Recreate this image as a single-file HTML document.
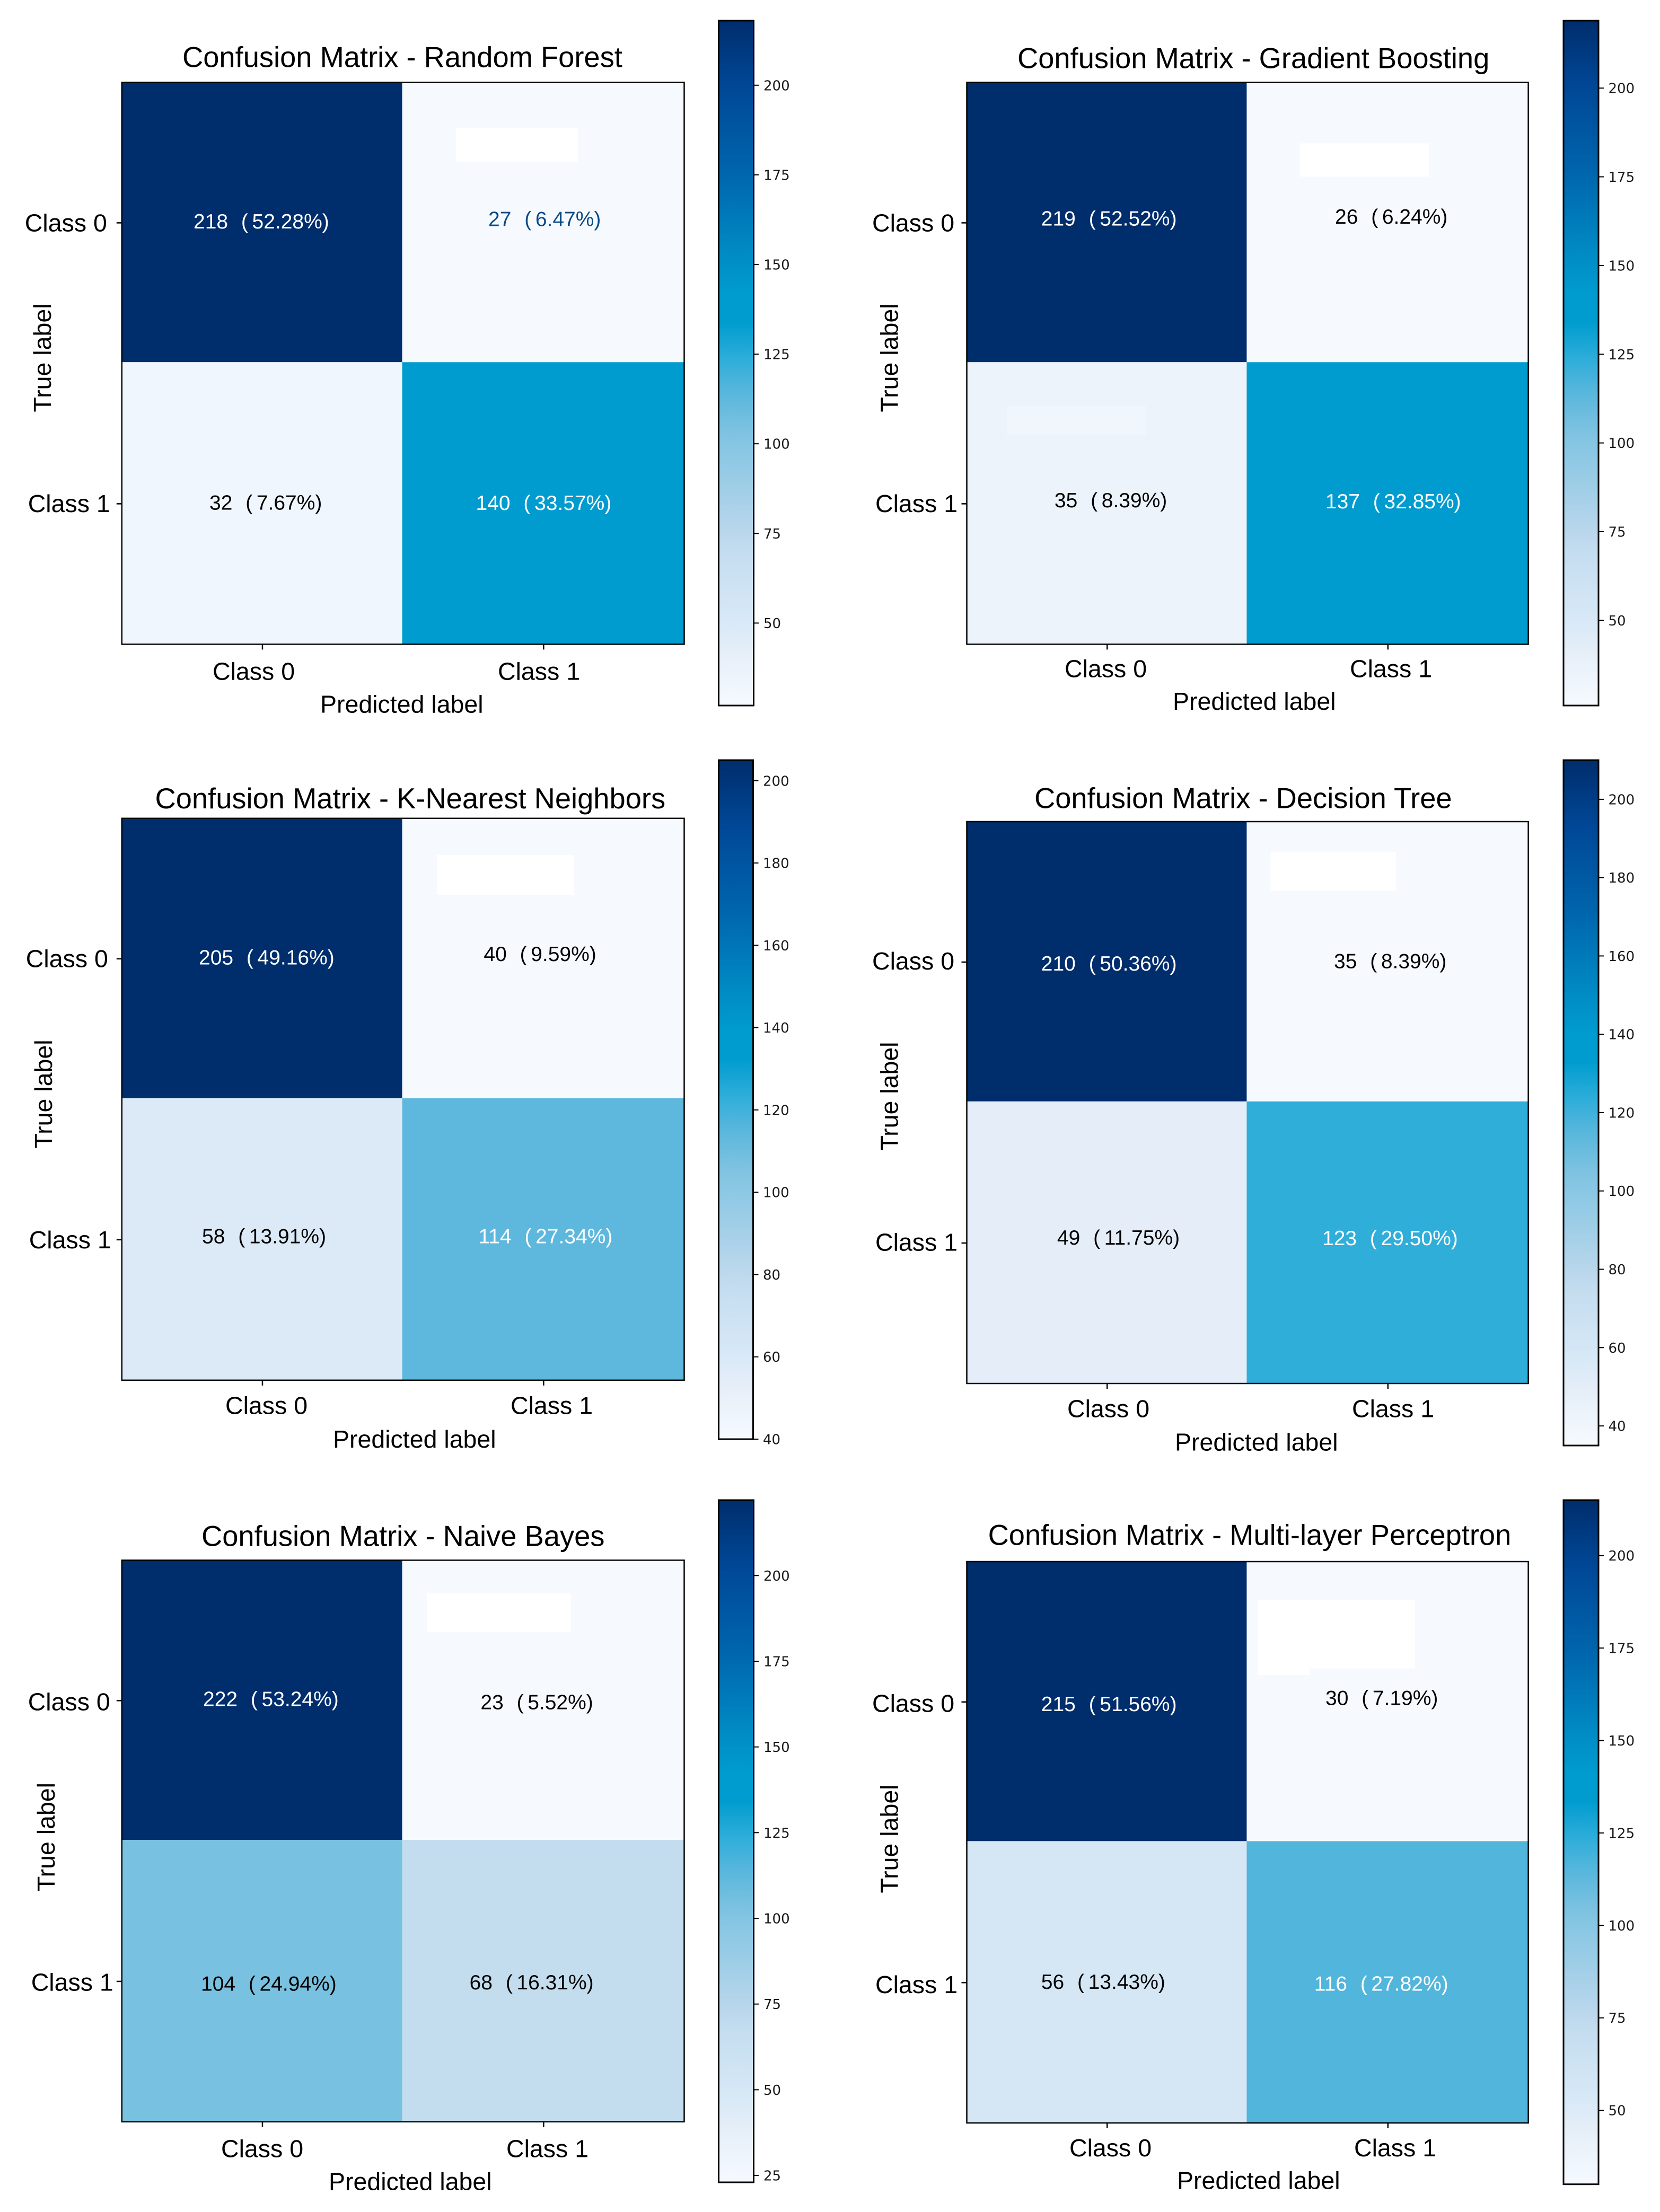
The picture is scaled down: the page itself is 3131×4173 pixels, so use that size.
<!DOCTYPE html>
<html lang="en">
<head>
<meta charset="utf-8">
<title>Confusion Matrices</title>
<style>
html,body{margin:0;padding:0;background:#fff;width:3131px;height:4173px;overflow:hidden}
svg{display:block}
text{font-family:"Liberation Sans","Noto Sans CJK SC",sans-serif;fill:#000}
.cb-tick{font-family:"DejaVu Sans",sans-serif;font-size:26px;fill:#1a1a1a}
.title{font-size:54.3px}
.axis{font-size:46.5px}
.cell-text{font-size:39px}
</style>
</head>
<body>
<svg id="figure" xmlns="http://www.w3.org/2000/svg" width="3131" height="4173" viewBox="0 0 3131 4173">
<rect x="0" y="0" width="3131" height="4173" fill="#fff"/>
</svg>
<script>
// ---- chart data ----
const modelNames = ["Random Forest","Gradient Boosting","K-Nearest Neighbors","Decision Tree","Naive Bayes","Multi-layer Perceptron"];
const classLabels = ["Class 0","Class 1"];
const countsRandomForest = [218,27,32,140];
const countsGradientBoosting = [219,26,35,137];
const countsKNearest = [205,40,58,114];
const countsDecisionTree = [210,35,49,123];
const countsNaiveBayes = [222,23,104,68];
const countsPerceptron = [215,30,56,116];
const allCounts = [countsRandomForest,countsGradientBoosting,countsKNearest,countsDecisionTree,countsNaiveBayes,countsPerceptron];
const percentsRandomForest = ["52.28","6.47","7.67","33.57"];
const percentsGradientBoosting = ["52.52","6.24","8.39","32.85"];
const percentsKNearest = ["49.16","9.59","13.91","27.34"];
const percentsDecisionTree = ["50.36","8.39","11.75","29.50"];
const percentsNaiveBayes = ["53.24","5.52","24.94","16.31"];
const percentsPerceptron = ["51.56","7.19","13.43","27.82"];
const allPercents = [percentsRandomForest,percentsGradientBoosting,percentsKNearest,percentsDecisionTree,percentsNaiveBayes,percentsPerceptron];
const ticksBy25From50 = [50,75,100,125,150,175,200];
const ticksBy20From40 = [40,60,80,100,120,140,160,180,200];
const ticksBy25From25 = [25,50,75,100,125,150,175,200];
const allTicks = [ticksBy25From50,ticksBy25From50,ticksBy20From40,ticksBy20From40,ticksBy25From25,ticksBy25From50];

// ---- page layout (hand placed in the original figure, not data) ----
const panelLayouts = [
 {plot:[229.8,155.4,1060.7,1060],cb:[1355.5,39,66,1292],title:[344,107],yl:[[46.8,419.7],[52.7,949.3]],xl:[[401,1266],[939,1266]],pred:[604,1328],tru:[79.6,675],
  ann:[[365,417],[921,412.6],[395,947.5],[897.5,948]],patch:[[860.7,241,228.8,64.4,"#fff"]]},
 {plot:[1823.5,155.4,1059.1,1060],cb:[2949,39,66,1292],title:[1919,109],yl:[[1645,419.7],[1651,949.3]],xl:[[2008,1261],[2546,1261]],pred:[2212,1322.5],tru:[1677,675],
  ann:[[1963.8,411.7],[2518,408],[1988.9,943],[2499.9,944.8]],patch:[[2451.8,270.6,243.2,62.4,"#fff"],[1898.7,766,262.3,55.6,"#f0f6fc"]]},
 {plot:[229.8,1543.8,1060.7,1060],cb:[1355.5,1434,65,1281],title:[292.5,1505.4],yl:[[48.8,1808],[54.7,2338.5]],xl:[[425,2651],[963,2651]],pred:[628,2714.5],tru:[81.6,2064],
  ann:[[375,1805.4],[912.4,1799],[381,2331.4],[902.5,2331.4]],patch:[[825,1613,257.6,75.4,"#fff"]]},
 {plot:[1823.5,1550,1059.1,1060],cb:[2949,1434,66,1293],title:[1951,1505],yl:[[1645,1812.6],[1651,2343]],xl:[[2013,2657],[2550,2657]],pred:[2216,2720],tru:[1677,2068],
  ann:[[1963.8,1817],[2516,1812.6],[1993.9,2334],[2494,2335]],patch:[[2396.7,1608,236.3,72.4,"#fff"]]},
 {plot:[229.8,2943.4,1060.7,1059.4],cb:[1355.5,2830,66,1287],title:[380,2897],yl:[[52.7,3210],[58.7,3739]],xl:[[417,4053],[955,4053]],pred:[620,4114.7],tru:[86.6,3465.5],
  ann:[[383,3204.5],[906.4,3210.7],[379,3741.7],[885.6,3739]],patch:[[805,3005.6,271.6,72.8,"#fff"]]},
 {plot:[1823.5,2946,1059.1,1059],cb:[2949,2830,66,1290.7],title:[1863.6,2895],yl:[[1645,3213],[1651,3743.5]],xl:[[2017,4051.6],[2554,4051.6]],pred:[2220,4113],tru:[1677,3469],
  ann:[[1963.8,3214],[2500,3202.7],[1963.8,3738],[2478.8,3741.7]],patch:[[2372.6,3019,296.4,128.6,"#fff"],[2372.6,3147,97.4,13,"#fff"]]}
];
const splitX = 0.4985;
const splitY = 0.498;

// ---- colour map ----
const rampStops = [0,0.08,0.12,0.226,0.25,0.38,0.407,0.46,0.503,0.56,0.6,0.66,0.775,0.906,1];
const rampColors = ["#f6faff","#e5eef8","#d9e9f7","#c3ddef","#bbd7ec","#86c6e3","#79c1e0","#56b6dc","#30aeda","#009ccf","#009ccf","#008bc4","#0066ad","#004796","#002d6c"];

const NS = "http://www.w3.org/2000/svg";
const svg = document.getElementById("figure");

function hexRgb(h){return [1,3,5].map(function(i){return parseInt(h.substr(i,2),16);});}
function colorAt(t){
  t = Math.max(0,Math.min(1,t));
  for(let i=1;i<rampStops.length;i++){
    if(t<=rampStops[i]){
      const f=(t-rampStops[i-1])/(rampStops[i]-rampStops[i-1]);
      const a=hexRgb(rampColors[i-1]),b=hexRgb(rampColors[i]);
      return "rgb("+a.map(function(v,k){return Math.round(v+(b[k]-v)*f);}).join(",")+")";
    }
  }
  return rampColors[rampColors.length-1];
}
function make(tag,parent,attrs,txt){
  const n=document.createElementNS(NS,tag);
  for(const k in attrs){n.setAttribute(k,attrs[k]);}
  if(txt!==undefined){n.textContent=txt;}
  parent.appendChild(n);
  return n;
}

// shared gradient for every colour bar
const defs = make("defs",svg,{});
const grad = make("linearGradient",defs,{id:"ramp",x1:0,y1:1,x2:0,y2:0});
rampStops.forEach(function(s,i){
  make("stop",grad,{offset:s,"stop-color":rampColors[i]});
});

modelNames.forEach(function(model,pi){
  const L = panelLayouts[pi];
  const counts = allCounts[pi];
  const percents = allPercents[pi];
  const ticks = allTicks[pi];
  const vmin = Math.min.apply(null,counts);
  const vmax = Math.max.apply(null,counts);
  const norm = function(v){return (v-vmin)/(vmax-vmin);};
  const px=L.plot[0],py=L.plot[1],pw=L.plot[2],ph=L.plot[3];
  const xEdges = [px,px+pw*splitX,px+pw];
  const yEdges = [py,py+ph*splitY,py+ph];
  const cbX=L.cb[0],cbY=L.cb[1],cbW=L.cb[2],cbH=L.cb[3];
  const cbScale = function(v){return cbY+cbH-norm(v)*cbH;};

  const g = make("g",svg,{});
  
  

  // cells
  counts.forEach(function(v,i){
    const col=i%2,row=Math.floor(i/2);
    const r = make("rect",g,{x:xEdges[col],y:yEdges[row],width:xEdges[col+1]-xEdges[col],height:yEdges[row+1]-yEdges[row],fill:colorAt(norm(v))});
    
    
  });

  // retouched white patches seen in the source image
  L.patch.forEach(function(q){
    const r = make("rect",g,{x:q[0],y:q[1],width:q[2],height:q[3],fill:q[4]});
    
    
  });

  // frame
  const frame = make("rect",g,{x:px,y:py,width:pw,height:ph,fill:"none",stroke:"#000","stroke-width":2.5});
  
  

  // ticks and tick labels
  classLabels.forEach(function(lbl,i){
    const tx = px+(i+0.5)*pw/2, ty = py+(i+0.5)*ph/2;
    const xt = make("line",g,{x1:tx,x2:tx,y1:py+ph,y2:py+ph+10,stroke:"#000","stroke-width":2.5});
    
    
    const yt = make("line",g,{x1:px-10,x2:px,y1:ty,y2:ty,stroke:"#000","stroke-width":2.5});
    
    
    const xl = make("text",g,{x:L.xl[i][0],y:L.xl[i][1]+16.6,"class":"axis"},lbl);
    
    
    const yl = make("text",g,{x:L.yl[i][0],y:L.yl[i][1]+16.6,"class":"axis"},lbl);
    
    
  });

  // title and axis titles
  const title = make("text",g,{x:L.title[0],y:L.title[1]+19.5,"class":"title"},"Confusion Matrix - "+model);
  
  
  const pred = make("text",g,{x:L.pred[0],y:L.pred[1]+16.6,"class":"axis"},"Predicted label");
  
  
  const tx0 = L.tru[0]+16.6, ty0 = L.tru[1];
  const tru = make("text",g,{x:tx0,y:ty0,"class":"axis","text-anchor":"middle",transform:"rotate(-90 "+tx0+" "+ty0+")"},"True label");
  
  

  // annotations
  counts.forEach(function(v,i){
    const isSpecial = (pi===0 && i===1);
    const fill = norm(v)>0.43 ? "#fff" : (isSpecial ? "#0b4a87" : "#000");
    const t = make("text",g,{x:L.ann[i][0],y:L.ann[i][1]+14,"class":"cell-text",style:"fill:"+fill});
    
    
    make("tspan",t,{},String(v)+" ");
    make("tspan",t,{dx:14},"(");
    make("tspan",t,{dx:7.6},percents[i]+"%)");
  });

  // colour bar
  const bar = make("rect",g,{x:cbX,y:cbY,width:cbW,height:cbH,fill:"url(#ramp)",stroke:"#000","stroke-width":3});
  
  
  ticks.forEach(function(v){
    const y = cbScale(v);
    const tk = make("line",g,{x1:cbX+cbW,x2:cbX+cbW+10,y1:y,y2:y,stroke:"#000","stroke-width":2});
    
    
    const lb = make("text",g,{x:cbX+cbW+18.5,y:y+9.5,"class":"cb-tick"},String(v));
    
    
  });
});
</script>
</body>
</html>
